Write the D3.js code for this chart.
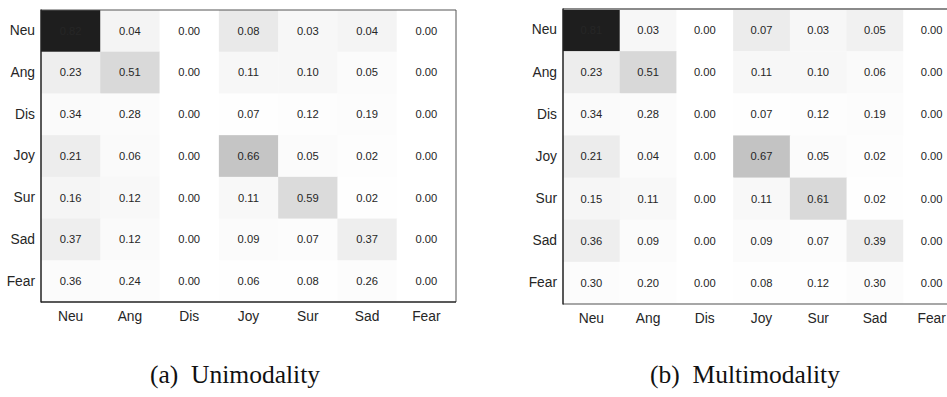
<!DOCTYPE html>
<html>
<head>
<meta charset="utf-8">
<script src="https://cdn.jsdelivr.net/npm/d3@7"></script>
<style>
  html, body { margin: 0; padding: 0; background: #ffffff; }
  svg { display: block; }
</style>
</head>
<body>
<svg id="chart" width="947" height="397"></svg>
<script>
// Emotion classes (rows = true label, columns = predicted label)
const emotions = ["Neu", "Ang", "Dis", "Joy", "Sur", "Sad", "Fear"];

// Number of test utterances per true class, used to shade cells by count
const classSupport = [1256, 345, 68, 402, 281, 208, 50];

// Row-normalised confusion matrix, text-only model
const uniNeu  = [0.82, 0.04, 0.00, 0.08, 0.03, 0.04, 0.00];
const uniAng  = [0.23, 0.51, 0.00, 0.11, 0.10, 0.05, 0.00];
const uniDis  = [0.34, 0.28, 0.00, 0.07, 0.12, 0.19, 0.00];
const uniJoy  = [0.21, 0.06, 0.00, 0.66, 0.05, 0.02, 0.00];
const uniSur  = [0.16, 0.12, 0.00, 0.11, 0.59, 0.02, 0.00];
const uniSad  = [0.37, 0.12, 0.00, 0.09, 0.07, 0.37, 0.00];
const uniFear = [0.36, 0.24, 0.00, 0.06, 0.08, 0.26, 0.00];

// Row-normalised confusion matrix, fused multimodal model
const multiNeu  = [0.81, 0.03, 0.00, 0.07, 0.03, 0.05, 0.00];
const multiAng  = [0.23, 0.51, 0.00, 0.11, 0.10, 0.06, 0.00];
const multiDis  = [0.34, 0.28, 0.00, 0.07, 0.12, 0.19, 0.00];
const multiJoy  = [0.21, 0.04, 0.00, 0.67, 0.05, 0.02, 0.00];
const multiSur  = [0.15, 0.11, 0.00, 0.11, 0.61, 0.02, 0.00];
const multiSad  = [0.36, 0.09, 0.00, 0.09, 0.07, 0.39, 0.00];
const multiFear = [0.30, 0.20, 0.00, 0.08, 0.12, 0.30, 0.00];

const captions = ["(a)\u00a0\u00a0Unimodality", "(b)\u00a0\u00a0Multimodality"];

const panels = [
  { rows: [uniNeu, uniAng, uniDis, uniJoy, uniSur, uniSad, uniFear],
    box: { x0: 41, x1: 456, y0: 10, y1: 302 },
    spineTR: "#555555", spineW: 1, caption: captions[0], capX: 235 },
  { rows: [multiNeu, multiAng, multiDis, multiJoy, multiSur, multiSad, multiFear],
    box: { x0: 563, x1: 960, y0: 9, y1: 304 },
    spineTR: "#8a8a8a", spineW: 2, caption: captions[1], capX: 745 }
];

const svg = d3.select("#chart");
const sans = "'Liberation Sans', Arial, Helvetica, sans-serif";
const serif = "'Liberation Serif', 'Times New Roman', serif";

panels.forEach(p => {
  const b = p.box;
  const x = d3.scaleBand().domain(emotions).range([b.x0, b.x1]).padding(0);
  const y = d3.scaleBand().domain(emotions).range([b.y0, b.y1]).padding(0);

  const cells = [];
  p.rows.forEach((row, i) => row.forEach((v, j) => {
    cells.push({ r: emotions[i], c: emotions[j], v: v, n: v * classSupport[i] });
  }));
  const maxN = d3.max(cells, d => d.n);
  const shade = d3.scaleLinear().domain([0, maxN]).range(["#ffffff", "#1e1e1e"]);

  const g = svg.append("g");

  g.selectAll("rect.cell").data(cells).join("rect")
    .attr("class", "cell")
    .attr("x", d => x(d.c))
    .attr("y", d => y(d.r))
    .attr("width", x.bandwidth() + 0.5)
    .attr("height", y.bandwidth() + 0.5)
    .attr("fill", d => shade(d.n));

  g.selectAll("text.val").data(cells).join("text")
    .attr("class", "val")
    .attr("x", d => x(d.c) + x.bandwidth() / 2)
    .attr("y", d => y(d.r) + y.bandwidth() / 2)
    .attr("dy", "0.35em")
    .attr("text-anchor", "middle")
    .attr("font-family", sans)
    .attr("font-size", "11.2px")
    .attr("fill", "#262626")
    .text(d => d.v.toFixed(2));

  // Frame: light top/right, dark left/bottom
  g.append("line").attr("x1", b.x0).attr("x2", b.x1).attr("y1", b.y0).attr("y2", b.y0)
    .attr("stroke", p.spineTR).attr("stroke-width", p.spineW);
  g.append("line").attr("x1", b.x1).attr("x2", b.x1).attr("y1", b.y0).attr("y2", b.y1)
    .attr("stroke", p.spineTR).attr("stroke-width", p.spineW);
  g.append("line").attr("x1", b.x0).attr("x2", b.x1).attr("y1", b.y1).attr("y2", b.y1)
    .attr("stroke", p.spineW > 1 ? p.spineTR : "#222222").attr("stroke-width", 1.5);
  g.append("line").attr("x1", b.x0).attr("x2", b.x0).attr("y1", b.y0 - 0.5).attr("y2", b.y1 + 0.5)
    .attr("stroke", "#222222").attr("stroke-width", 1.5);

  // Axes with tick labels only
  const yAxis = g.append("g").attr("transform", `translate(${b.x0},0)`)
    .call(d3.axisLeft(y).tickSize(0).tickPadding(6));
  const xAxis = g.append("g").attr("transform", `translate(0,${b.y1})`)
    .call(d3.axisBottom(x).tickSize(0).tickPadding(9));
  [yAxis, xAxis].forEach(a => {
    a.select(".domain").remove();
    a.selectAll("text")
      .attr("font-family", sans)
      .attr("font-size", "13.8px")
      .attr("fill", "#262626");
  });

  svg.append("text")
    .attr("x", p.capX)
    .attr("y", 383)
    .attr("text-anchor", "middle")
    .attr("font-family", serif)
    .attr("font-size", "25.5px")
    .attr("fill", "#111111")
    .text(p.caption);
});
</script>
</body>
</html>
